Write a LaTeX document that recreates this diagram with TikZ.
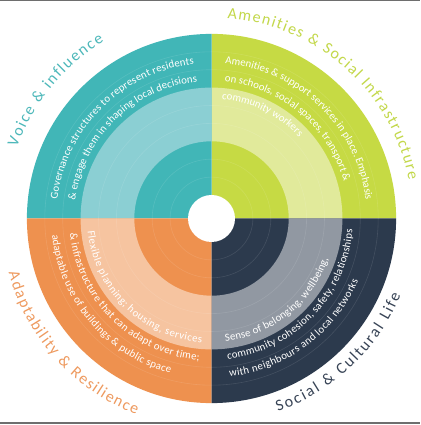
\documentclass[tikz,border=0pt]{standalone}
\usepackage{fontspec}
\setmainfont{Carlito}
\usetikzlibrary{decorations.text}
\definecolor{tealD}{HTML}{41B6B7}
\definecolor{tealL}{HTML}{8BCFD3}
\definecolor{greenD}{HTML}{C6DA44}
\definecolor{greenL}{HTML}{E1EA9B}
\definecolor{orangeD}{HTML}{EE914F}
\definecolor{orangeL}{HTML}{F6C4A0}
\definecolor{navyD}{HTML}{2C3A4D}
\definecolor{navyL}{HTML}{9198A2}
\definecolor{tealT}{HTML}{4DB8BA}
\definecolor{greenT}{HTML}{C3D84A}
\definecolor{orangeT}{HTML}{EE9A5F}
\definecolor{navyT}{HTML}{384456}
\definecolor{frameGray}{HTML}{6E6E6E}
\tikzset{
  ringline/.style={white, opacity=0.11, line width=0.6pt},
  bodytext/.style={decorate, decoration={text along path, text align=fit to path, text={|\fontsize{10.8}{12}\selectfont\color{white}|#1}}},
  titletext/.style 2 args={decorate, decoration={text along path, text align=fit to path, text={|\fontsize{16}{18}\selectfont\color{#1}|#2}}}
}
\begin{document}
\begin{tikzpicture}[x=1pt,y=1pt]
\useasboundingbox (0,0) rectangle (420,425);
\fill[white] (0,0) rectangle (420,425);
\fill[frameGray] (0,423.5) rectangle (420,425);
\fill[frameGray] (0,0.5) rectangle (420,3);
\begin{scope}[shift={(211.5,206.5)}]
  % dark sectors
  \fill[greenD] (0,0) -- (0:184.6) arc[start angle=0,end angle=90,radius=184.6] -- cycle;
  \fill[tealD] (0,0) -- (90:184.6) arc[start angle=90,end angle=180,radius=184.6] -- cycle;
  \fill[orangeD] (0,0) -- (180:184.6) arc[start angle=180,end angle=270,radius=184.6] -- cycle;
  \fill[navyD] (0,0) -- (270:184.6) arc[start angle=270,end angle=360,radius=184.6] -- cycle;
  % light rings
  \fill[greenL] (0:130.9) arc[start angle=0,end angle=90,radius=130.9] -- (90:77.2) arc[start angle=90,end angle=0,radius=77.2] -- cycle;
  \fill[tealL] (90:130.9) arc[start angle=90,end angle=180,radius=130.9] -- (180:77.2) arc[start angle=180,end angle=90,radius=77.2] -- cycle;
  \fill[orangeL] (180:130.9) arc[start angle=180,end angle=270,radius=130.9] -- (270:77.2) arc[start angle=270,end angle=180,radius=77.2] -- cycle;
  \fill[navyL] (270:130.9) arc[start angle=270,end angle=360,radius=130.9] -- (0:77.2) arc[start angle=0,end angle=-90,radius=77.2] -- cycle;
  % faint guide circles
  \foreach \r in {41.4,59.3,95.1,113,148.8,166.7}
    \draw[ringline] (0,0) circle[radius=\r];
  % hole
  \fill[white] (0,0) circle[radius=23.5];
  % body texts: teal (outward, clockwise)
  \path[bodytext={Governance structures to represent residents}] (173:155.3) arc[start angle=173,end angle=96.5,radius=155.3];
  \path[bodytext={{\&} engage them in shaping local decisions}] (172.5:137.4) arc[start angle=172.5,end angle=96,radius=137.4];
  % green
  \path[bodytext={Amenities {\&} support services in place. Emphasis}] (85:155.3) arc[start angle=85,end angle=7,radius=155.3];
  \path[bodytext={on schools, social spaces, transport {\&}}] (84.5:137.4) arc[start angle=84.5,end angle=15.5,radius=137.4];
  \path[bodytext={community workers}] (85:119.5) arc[start angle=85,end angle=43.5,radius=119.5];
  % orange (inward, counterclockwise)
  \path[bodytext={Flexible planning; housing, services}] (186:124.5) arc[start angle=186,end angle=265.5,radius=124.5];
  \path[bodytext={{\&} infrastructure that can adapt over time;}] (186:142.4) arc[start angle=186,end angle=265,radius=142.4];
  \path[bodytext={adaptable use of buildings {\&} public space}] (186:160.3) arc[start angle=186,end angle=255,radius=160.3];
  % navy
  \path[bodytext={Sense of belonging, wellbeing,}] (276.5:123.5) arc[start angle=276.5,end angle=341,radius=123.5];
  \path[bodytext={community cohesion, safety, relationships}] (276.5:141.4) arc[start angle=276.5,end angle=355.5,radius=141.4];
  \path[bodytext={with neighbours and local networks}] (276.5:159.3) arc[start angle=276.5,end angle=337,radius=159.3];
  % titles
  \path[titletext={tealT}{Voice {\&} influence}] (160:207) arc[start angle=160,end angle=121.3,radius=207];
  \path[titletext={greenT}{Amenities {\&} Social Infrastructure}] (85.5:201) arc[start angle=85.5,end angle=11,radius=201];
  \path[titletext={orangeT}{Adaptability {\&} Resilience}] (195:210) arc[start angle=195,end angle=249,radius=210];
  \path[titletext={navyT}{Social {\&} Cultural Life}] (289:204) arc[start angle=289,end angle=338,radius=204];
\end{scope}
\end{tikzpicture}
\end{document}
